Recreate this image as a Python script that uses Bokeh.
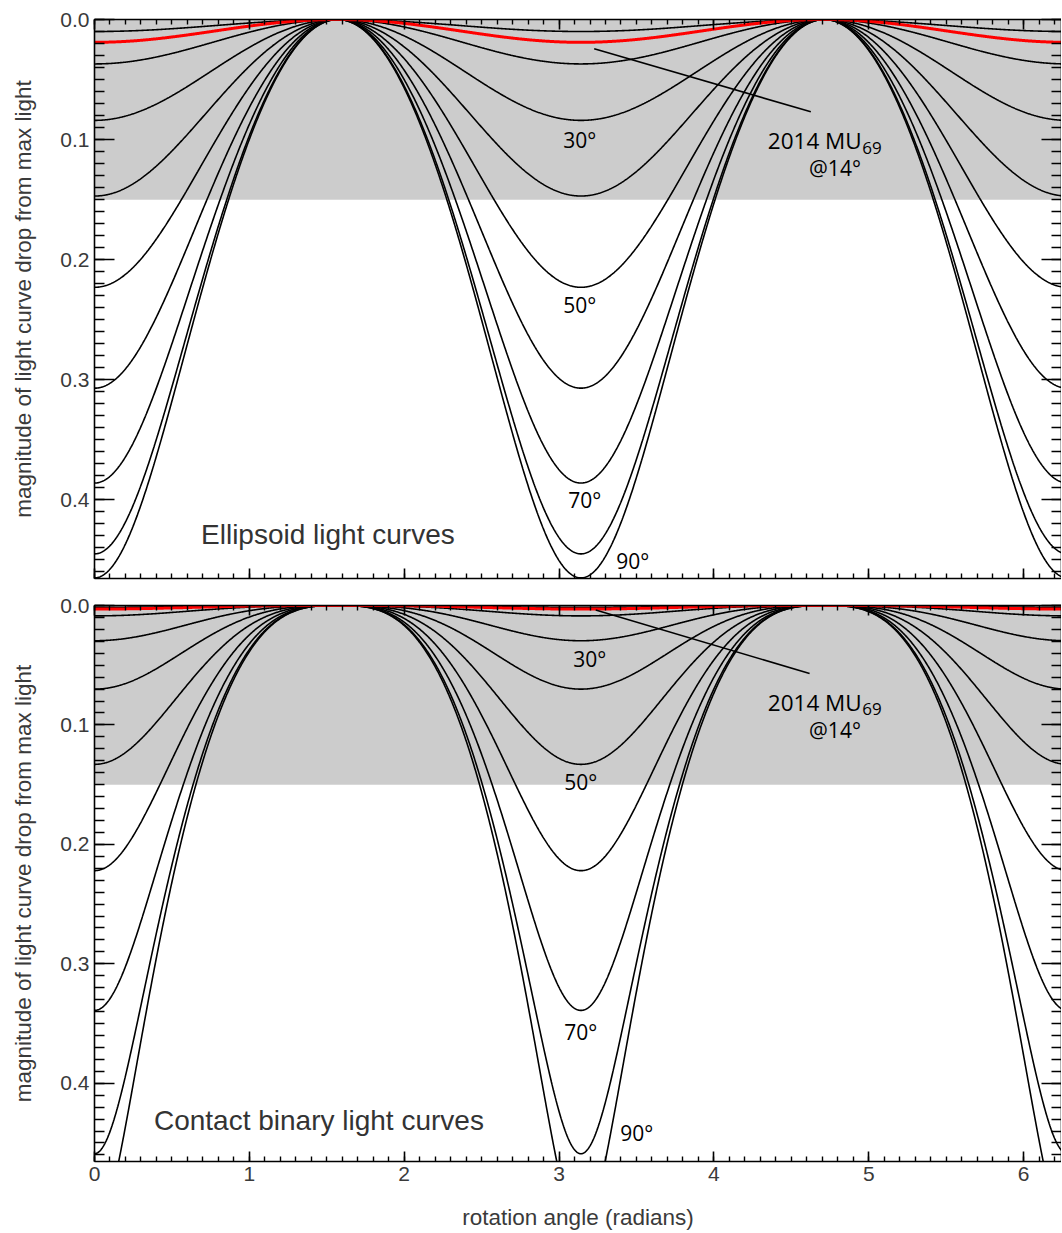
import numpy as np
from bokeh.plotting import figure
from bokeh.layouts import column
from bokeh.models import (Range1d, FixedTicker, PrintfTickFormatter, LinearAxis,
                          BoxAnnotation, ColumnDataSource)
from bokeh.core.properties import value
from bokeh.embed import file_html
from bokeh.resources import INLINE

# ---------------- data ----------------
ASPECT_ANGLES = [10, 20, 30, 40, 50, 60, 70, 80, 90]
# depth of each light curve (mag below max light) at minimum light
ELLIPSOID_DEPTH = [0.010, 0.037, 0.084, 0.147, 0.223, 0.307, 0.386, 0.445, 0.465]
ELLIPSOID_MU69_DEPTH = 0.019          # 2014 MU69 at 14 deg (red)
CONTACT_DEPTH = [0.0015, 0.0087, 0.0295, 0.070, 0.133, 0.222, 0.339, 0.459, 0.524]
CONTACT_MU69_DEPTH = 0.003
SHADE_LIMIT = 0.15                    # grey band: 0 .. 0.15 mag
X_TICKS = [0, 1, 2, 3, 4, 5, 6]
Y_TICKS = [0.0, 0.1, 0.2, 0.3, 0.4]
LABELED_ANGLES = ["30°", "50°", "70°", "90°"]

X_MAX = 6.245
Y_MAX = 0.4655

phase = np.linspace(0, 2 * np.pi, 1500)


def ellipsoid_curve(depth):
    k = 1.0 - 10 ** (-0.8 * depth)
    return -1.25 * np.log10(1.0 - k * np.cos(phase) ** 2)


def _binary_mag(u):
    u = np.clip(u, 0.0, 1.0)
    overlap = 2.0 * (np.arccos(u) - u * np.sqrt(1.0 - u ** 2))
    area = (2.0 * np.pi - overlap) / (2.0 * np.pi)
    return -2.5 * np.log10(area)


def contact_curve(depth):
    lo, hi = 0.0, 1.0
    for _ in range(80):
        mid = 0.5 * (lo + hi)
        if _binary_mag(mid) > depth:
            lo = mid
        else:
            hi = mid
    c = 1.0 - (0.5 * (lo + hi)) ** 2
    u = np.sqrt(np.clip(1.0 - c * np.cos(phase) ** 2, 0, 1))
    return _binary_mag(u)


LABEL_FONT = value("Open Sans")


def style_axis(ax, ticks, minor, fmt, major_len, minor_len, show_labels):
    ax.ticker = FixedTicker(ticks=ticks, minor_ticks=minor)
    ax.formatter = PrintfTickFormatter(format=fmt)
    ax.major_tick_in = major_len
    ax.major_tick_out = 0
    ax.minor_tick_in = minor_len
    ax.minor_tick_out = 0
    ax.axis_line_width = 1.6
    ax.major_tick_line_width = 1.6
    ax.minor_tick_line_width = 1.4
    ax.axis_line_color = "black"
    ax.major_tick_line_color = "black"
    ax.minor_tick_line_color = "black"
    if show_labels:
        ax.major_label_text_font = "Liberation Sans"
        ax.major_label_text_font_size = "21px"
        ax.major_label_text_color = "#3a3a3a"
        ax.major_label_standoff = 5
    else:
        ax.major_label_text_font_size = "0px"
        ax.major_label_standoff = 0
        ax.major_label_text_color = None


x_minor = [round(v, 2) for v in np.arange(0, 6.3, 0.1)]
y_minor = [round(v, 3) for v in np.arange(0, 0.47, 0.01)]


def make_panel(height, top_border, bottom_border, depths, mu69_depth, curve_fn,
               show_x_labels):
    p = figure(width=1061, height=height,
               x_range=Range1d(0, X_MAX), y_range=Range1d(Y_MAX, 0),
               output_backend="svg", toolbar_location=None,
               x_axis_location=None, y_axis_location=None,
               min_border_left=94, min_border_right=0,
               min_border_top=top_border, min_border_bottom=bottom_border,
               background_fill_color="white", border_fill_color="white")
    p.outline_line_color = None

    p.add_layout(BoxAnnotation(top=0, bottom=SHADE_LIMIT, fill_color="#cccccc",
                               fill_alpha=1.0, line_color=None, level="underlay"))

    left = LinearAxis()
    style_axis(left, Y_TICKS, y_minor, "%.1f", 20, 10, True)
    left.axis_label = "magnitude of light curve drop from max light"
    left.axis_label_text_font = "Liberation Sans"
    left.axis_label_text_font_size = "22.5px"
    left.axis_label_text_font_style = "normal"
    left.axis_label_text_color = "#3a3a3a"
    left.axis_label_standoff = 21
    p.add_layout(left, "left")

    right = LinearAxis()
    style_axis(right, Y_TICKS, y_minor, "%.1f", 20, 10, False)
    p.add_layout(right, "right")

    top = LinearAxis()
    style_axis(top, X_TICKS, x_minor, "%d", 10, 5, False)
    p.add_layout(top, "above")

    bottom = LinearAxis()
    style_axis(bottom, X_TICKS, x_minor, "%d", 10, 5, show_x_labels)
    if show_x_labels:
        bottom.axis_label = "rotation angle (radians)"
        bottom.axis_label_text_font = "Liberation Sans"
        bottom.axis_label_text_font_size = "22.5px"
        bottom.axis_label_text_font_style = "normal"
        bottom.axis_label_text_color = "#3a3a3a"
        bottom.axis_label_standoff = 21
    p.add_layout(bottom, "below")

    for g in p.grid:
        g.visible = False

    xs = [phase for _ in depths]
    ys = [curve_fn(d) for d in depths]
    src = ColumnDataSource(dict(xs=xs, ys=ys, angle=ASPECT_ANGLES))
    p.multi_line("xs", "ys", source=src, line_color="black", line_width=1.6)
    p.line(phase, curve_fn(mu69_depth), line_color="#ff0000", line_width=3)
    return p


top_p = make_panel(591, 19, 13, ELLIPSOID_DEPTH, ELLIPSOID_MU69_DEPTH,
                   ellipsoid_curve, False)
bot_p = make_panel(641, 14, 67, CONTACT_DEPTH, CONTACT_MU69_DEPTH,
                   contact_curve, True)


def add_texts(p, angle_xy, title, title_xy, leader, name_y, at_y):
    src = ColumnDataSource(dict(x=[a[0] for a in angle_xy],
                                y=[a[1] for a in angle_xy],
                                t=LABELED_ANGLES))
    p.text("x", "y", "t", source=src, text_font=LABEL_FONT,
           text_font_size="21px", text_align="center",
           text_baseline="middle", text_color="black")
    p.text([title_xy[0]], [title_xy[1]], [title], text_font=value("Liberation Sans"),
           text_font_size="28px", text_align="left", text_baseline="middle",
           text_color="#333333")
    p.segment([leader[0]], [leader[1]], [leader[2]], [leader[3]],
              line_color="black", line_width=1.6)
    p.text([4.955], [name_y], ["2014 MU"], text_font=LABEL_FONT,
           text_font_size="22.5px", text_align="right", text_baseline="middle",
           text_color="black")
    p.text([4.958], [name_y + 0.006], ["69"], text_font=LABEL_FONT,
           text_font_size="17px", text_align="left", text_baseline="middle",
           text_color="black")
    p.text([4.782], [at_y], ["@14°"], text_font=LABEL_FONT,
           text_font_size="21px", text_align="center", text_baseline="middle",
           text_color="black")


add_texts(top_p,
          [(3.134, 0.100), (3.134, 0.238), (3.166, 0.400), (3.476, 0.4507)],
          "Ellipsoid light curves", (0.688, 0.429),
          (3.227, 0.0243, 4.626, 0.0769), 0.101, 0.124)
add_texts(bot_p,
          [(3.199, 0.0445), (3.140, 0.148), (3.140, 0.357), (3.502, 0.442)],
          "Contact binary light curves", (0.384, 0.431),
          (3.237, 0.0037, 4.618, 0.057), 0.081, 0.104)

layout = column(top_p, bot_p, spacing=0)
open("out.html", "w").write(file_html(layout, INLINE))
